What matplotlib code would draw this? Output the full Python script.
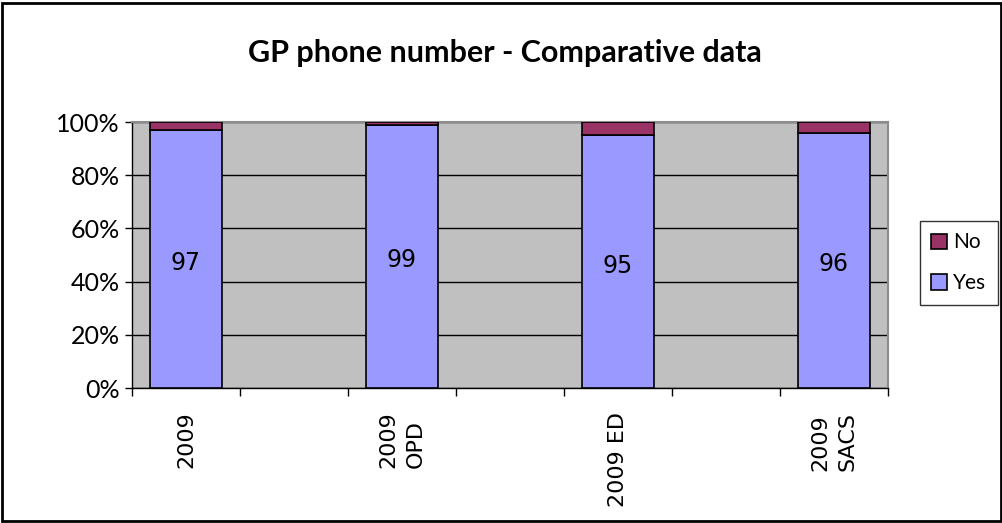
import numpy as np
import matplotlib
matplotlib.use("Agg")
import matplotlib.pyplot as plt
from matplotlib.patches import Rectangle, Patch
from matplotlib.ticker import FixedLocator, PercentFormatter

# Survey responses (% of patients giving a GP phone number)
categories = ["2009", "2009\nOPD", "2009 ED", "2009\nSACS"]
yes_pct = [97, 99, 95, 96]
no_pct = [3, 1, 5, 4]

YES_COLOR = "#9999FF"
NO_COLOR = "#993366"
PLOT_BG = "#C0C0C0"

W, H = 1003, 523
fig = plt.figure(figsize=(W / 100, H / 100), dpi=100)

# plot area in pixel terms
left, right, top, bottom = 132, 888, 122, 388
ax = fig.add_axes([left / W, 1 - bottom / H, (right - left) / W, (bottom - top) / H])
ax.set_facecolor(PLOT_BG)

# each series sits in every other category slot, leaving gaps between
slots = np.arange(len(categories)) * 2
bar_w = 0.667
ax.bar(slots, yes_pct, width=bar_w, color=YES_COLOR, edgecolor="black",
       linewidth=1.2, zorder=3)
ax.bar(slots, no_pct, width=bar_w, bottom=yes_pct, color=NO_COLOR,
       edgecolor="black", linewidth=1.2, zorder=3)

for x, v in zip(slots, yes_pct):
    ax.annotate(f"{v}", (x, v / 2), xytext=(0, -3), textcoords="offset points",
                ha="center", va="center", fontsize=17, family="DejaVu Sans",
                color="black", zorder=4)

n_slots = len(categories) * 2 - 1
ax.set_xlim(-0.5, n_slots - 0.5)
ax.set_ylim(0, 100)

# y axis
ax.yaxis.set_major_locator(FixedLocator([0, 20, 40, 60, 80, 100]))
ax.yaxis.set_major_formatter(PercentFormatter(decimals=0))
ax.tick_params(axis="y", direction="out", length=5, width=1, color="black",
               labelsize=18, pad=4)
for lab in ax.get_yticklabels():
    lab.set_family("Lato")
ax.grid(axis="y", color="black", linewidth=1, zorder=1)
ax.set_axisbelow(True)

# x axis: tick marks on slot boundaries, labels at bar centres
ax.xaxis.set_major_locator(FixedLocator(np.arange(-0.5, n_slots, 1.0)))
ax.xaxis.set_major_formatter(plt.NullFormatter())
ax.tick_params(axis="x", which="major", direction="out", length=6, width=1,
               color="black")
ax.xaxis.set_minor_locator(FixedLocator(slots))
ax.set_xticklabels(categories, minor=True)
ax.tick_params(axis="x", which="minor", length=0, pad=17, labelsize=16)
for lab in ax.get_xticklabels(minor=True):
    lab.set_rotation(90)
    lab.set_va("top")
    lab.set_ha("center")
    lab.set_family("DejaVu Sans")
    lab.set_multialignment("left")
    lab.set_linespacing(1.45)

for side in ("left", "bottom"):
    ax.spines[side].set_color("black")
    ax.spines[side].set_linewidth(1)
for side in ("top", "right"):
    ax.spines[side].set_color("#8C8C8C")
    ax.spines[side].set_linewidth(1.5)

fig.text(505 / W, 1 - 53 / H, "GP phone number - Comparative data",
         ha="center", va="center", fontsize=22, fontweight="bold",
         family="Lato")

handles = [Patch(facecolor=NO_COLOR, edgecolor="black", linewidth=1.2),
           Patch(facecolor=YES_COLOR, edgecolor="black", linewidth=1.2)]
leg = fig.legend(handles, ["No", "Yes"], loc="upper left",
                 bbox_to_anchor=(920 / W, 1 - 221 / H),
                 frameon=True, fancybox=False, edgecolor="black",
                 prop={"family": "Lato", "size": 15},
                 handlelength=0.75, handleheight=0.75, handletextpad=0.3,
                 labelspacing=1.0, borderpad=0.55, borderaxespad=0)
leg.get_frame().set_linewidth(1)

# outer chart border
fig.patches.append(Rectangle((1.5 / W, 2 / H), (999.5 / W), (518 / H),
                             transform=fig.transFigure, fill=False,
                             edgecolor="black", linewidth=2))

fig.savefig("out.png", dpi=100)
